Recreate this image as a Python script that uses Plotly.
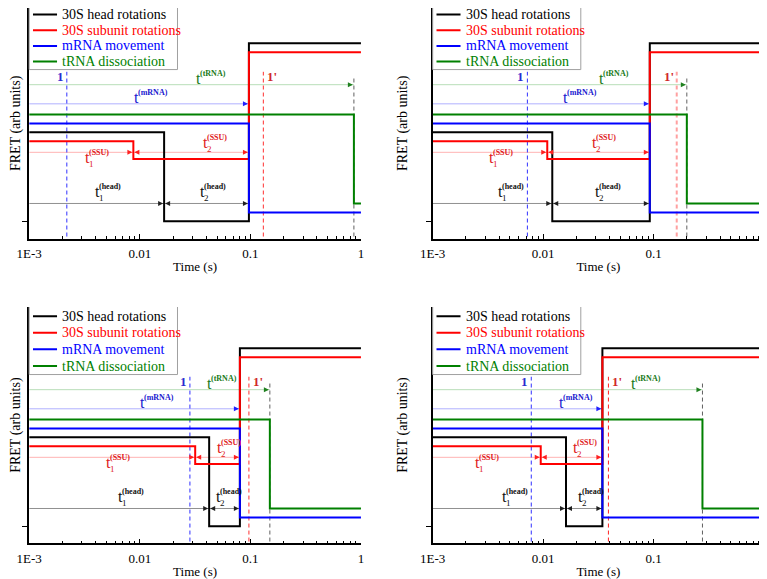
import numpy as np
import plotly.graph_objects as go

# step times (s) for the four panels (top-left, top-right, bottom-left, bottom-right)
t_ssu = [0.00875, 0.0109, 0.0317, 0.00951]     # 30S subunit first step
t_head = [0.0166, 0.0121, 0.0424, 0.0161]      # 30S head first step
t_main = [0.097, 0.0924, 0.0804, 0.0344]       # head/subunit up, mRNA down
t_trna = [0.863, 0.200, 0.150, 0.277]          # tRNA dissociation
t_mark1 = [0.00219, 0.0072, 0.0284, 0.00781]   # dashed line "1"
t_mark1p = [0.131, 0.162, 0.097, 0.039]        # dashed line "1'"

# FRET levels (arb units)
head_levels = [10, 0, 20]
ssu_levels = [9, 7, 19]
mrna_levels = [11, 1]
trna_levels = [12, 2]

# heights of the dwell-time arrows
arrow_trna = 15.35
arrow_mrna = 13.2
arrow_ssu = 7.75
arrow_head = 2.0

series_names = ['30S head rotations', '30S subunit rotations', 'mRNA movement', 'tRNA dissociation']
series_colors = ['#000000', '#ff0000', '#0000ff', '#008000']

# where the t labels start (left edge of the "t"), per panel, in seconds
label_x = {
    'trna': [0.0311, 0.031, 0.0389, 0.060],
    'mrna': [0.00845, 0.0144, 0.00957, 0.0133],
    'ssu1': [0.00308, 0.00308, 0.00477, 0.00232],
    'ssu2': [0.0356, 0.0264, 0.0479, 0.0178],
    'head1': [0.00375, 0.00377, 0.0061, 0.00404],
    'head2': [0.0334, 0.0285, 0.0472, 0.020],
}
mark1p_side = ['left', 'right', 'left', 'left']
mark1p_color = ['#ff3030', '#ffa0a0', '#ff3030', '#ff2020']
mark1p_width = [1, 2, 1, 1]

SERIF = 'Liberation Serif'
# the page adds an 8px body margin, so domains are set 8px up/left of the target
x_dom = [[0.0276, 0.4602], [0.5537, 0.9857], [0.0276, 0.4602], [0.5537, 0.9857]]
y_dom = [[0.6016, 1.0], [0.6016, 1.0], [0.0755, 0.4836], [0.0755, 0.4836]]
y_rng = [[-1.955, 23.97], [-1.955, 23.97], [-1.91, 24.64], [-1.91, 24.64]]
# legend rows (top panels are clipped at the page top, so squeeze them a bit)
legend_rows = [[23.25, 21.47, 19.7, 17.95]] * 2 + [[23.6, 21.75, 19.9, 18.0]] * 2

fig = go.Figure()


def refs(i):
    s = '' if i == 0 else str(i + 1)
    return 'x' + s, 'y' + s


def t_label(i, x, y, dy, sup, sub, color):
    xr, yr = refs(i)
    base = dict(xref=xr, yref=yr, x=np.log10(x), y=y, xanchor='left', yanchor='bottom',
                showarrow=False)
    fig.add_annotation(**base, text='t', font=dict(family=SERIF, size=16, color=color),
                       yshift=dy - 4)
    fig.add_annotation(**base, text='<b>(%s)</b>' % sup,
                       font=dict(family=SERIF, size=8, color=color), xshift=4, yshift=dy + 5)
    if sub:
        fig.add_annotation(**base, text=sub, font=dict(family=SERIF, size=9, color=color),
                           xshift=4, yshift=dy - 7)


def head(i, x, y, color, left=False):
    xr, yr = refs(i)
    fig.add_annotation(xref=xr, yref=yr, x=np.log10(x), y=y, ax=5 if left else -5, ay=0,
                       text='', showarrow=True, arrowhead=2, arrowsize=1, arrowwidth=1,
                       arrowcolor=color, standoff=1)


minor_vals = [k * 10.0 ** e for e in (-3, -2, -1) for k in range(2, 10)]

for i in range(4):
    xr, yr = refs(i)
    xa = dict(xaxis=xr, yaxis=yr, mode='lines', showlegend=False, hoverinfo='skip')
    x0 = 1e-3

    # light dwell-time arrows (drawn underneath)
    fig.add_trace(go.Scatter(x=[x0, t_trna[i]], y=[arrow_trna] * 2,
                             line=dict(color='#b8deb8', width=1), **xa))
    fig.add_trace(go.Scatter(x=[x0, t_main[i]], y=[arrow_mrna] * 2,
                             line=dict(color='#b0b0ff', width=1), **xa))
    fig.add_trace(go.Scatter(x=[x0, t_main[i]], y=[arrow_ssu] * 2,
                             line=dict(color='#ffb4b4', width=1), **xa))
    fig.add_trace(go.Scatter(x=[x0, t_main[i]], y=[arrow_head] * 2,
                             line=dict(color='#909090', width=1), **xa))

    # dashed markers
    fig.add_trace(go.Scatter(x=[t_mark1[i]] * 2, y=[-2.5, 16.8],
                             line=dict(color='#3030ff', width=1, dash='4px,3px'), **xa))
    fig.add_trace(go.Scatter(x=[t_mark1p[i]] * 2, y=[-2.5, 16.8],
                             line=dict(color=mark1p_color[i], width=mark1p_width[i],
                                       dash='4px,3px'), **xa))
    fig.add_trace(go.Scatter(x=[t_trna[i]] * 2, y=[-2.5, 16.25],
                             line=dict(color='#606060', width=1, dash='4px,3px'), **xa))

    # step traces
    fig.add_trace(go.Scatter(x=[x0, t_head[i], t_main[i], 1], y=head_levels + [head_levels[-1]],
                             line=dict(color=series_colors[0], width=2, shape='hv'), **xa))
    fig.add_trace(go.Scatter(x=[x0, t_ssu[i], t_main[i], 1], y=ssu_levels + [ssu_levels[-1]],
                             line=dict(color=series_colors[1], width=2, shape='hv'), **xa))
    fig.add_trace(go.Scatter(x=[x0, t_main[i], 1], y=mrna_levels + [mrna_levels[-1]],
                             line=dict(color=series_colors[2], width=2, shape='hv'), **xa))
    fig.add_trace(go.Scatter(x=[x0, t_trna[i], 1], y=trna_levels + [trna_levels[-1]],
                             line=dict(color=series_colors[3], width=2, shape='hv'), **xa))

    # arrowheads
    head(i, t_trna[i], arrow_trna, '#208020')
    head(i, t_main[i], arrow_mrna, '#2020ff')
    head(i, t_ssu[i], arrow_ssu, '#ff2020')
    head(i, t_ssu[i], arrow_ssu, '#ff2020', left=True)
    head(i, t_main[i], arrow_ssu, '#ff2020')
    head(i, t_head[i], arrow_head, '#202020')
    head(i, t_head[i], arrow_head, '#202020', left=True)
    head(i, t_main[i], arrow_head, '#202020')

    # labels
    t_label(i, label_x['trna'][i], arrow_trna, 0, 'tRNA', None, '#1a7a1a')
    t_label(i, label_x['mrna'][i], arrow_mrna, 0, 'mRNA', None, '#2020d0')
    t_label(i, label_x['ssu2'][i], arrow_ssu, 3, 'SSU', '2', '#e02020')
    t_label(i, label_x['ssu1'][i], arrow_ssu, -12, 'SSU', '1', '#e02020')
    t_label(i, label_x['head1'][i], arrow_head, 5, 'head', '1', '#111111')
    t_label(i, label_x['head2'][i], arrow_head, 5, 'head', '2', '#111111')

    fig.add_annotation(xref=xr, yref=yr, x=np.log10(t_mark1[i]), y=16.3, text='<b>1</b>',
                       showarrow=False, xanchor='right', xshift=-1,
                       font=dict(family=SERIF, size=13, color='#2a2ad0'))
    side = mark1p_side[i]
    fig.add_annotation(xref=xr, yref=yr, x=np.log10(t_mark1p[i]), y=16.3, text="<b>1'</b>",
                       showarrow=False, xanchor=side, xshift=2 if side == 'left' else -1,
                       font=dict(family=SERIF, size=13, color='#d02828'))

    # legend box
    dom = xr + ' domain'
    fig.add_shape(type='rect', xref=dom, yref=yr, x0=0, x1=0.447, y0=17.05, y1=24.9,
                  line=dict(color='#a0a0a0', width=1), fillcolor='white', layer='above')
    for k, (name, col) in enumerate(zip(series_names, series_colors)):
        ly = legend_rows[i][k]
        fig.add_shape(type='line', xref=dom, yref=yr, x0=0.0115, x1=0.084, y0=ly, y1=ly,
                      line=dict(color=col, width=2), layer='above')
        fig.add_annotation(xref=dom, yref=yr, x=0.093, y=ly, text=name, showarrow=False,
                           xanchor='left', font=dict(family=SERIF, size=14, color=col))

    n = '' if i == 0 else str(i + 1)
    fig.update_layout(**{
        'xaxis' + n: dict(domain=x_dom[i], anchor=yr, type='log', range=[-3, 0],
                          automargin=False,
                          showline=True, linecolor='black', linewidth=1.5, mirror=False,
                          showgrid=False, zeroline=False, ticks='inside', ticklen=5,
                          tickcolor='black', tickwidth=1,
                          tickvals=[0.001, 0.01, 0.1, 1], ticktext=['1E-3', '0.01', '0.1', '1'],
                          tickfont=dict(family=SERIF, size=13, color='black'),
                          ticklabelstandoff=2, ticklabeloverflow='allow',
                          minor=dict(ticks='inside', ticklen=3, tickcolor='black',
                                     tickvals=minor_vals),
                          title=dict(text='Time (s)', standoff=2,
                                     font=dict(family=SERIF, size=13, color='black'))),
        'yaxis' + n: dict(domain=y_dom[i], anchor=xr, range=y_rng[i],
                          automargin=False,
                          showline=True, linecolor='black', linewidth=1.5,
                          showgrid=False, zeroline=False, ticks='outside', ticklen=5,
                          tickcolor='black', tickvals=[0], showticklabels=False,
                          title=dict(text='FRET (arb units)', standoff=15,
                                     font=dict(family=SERIF, size=14, color='black'))),
    })

fig.update_layout(width=767, height=579, margin=dict(l=0, r=0, t=0, b=0),
                  paper_bgcolor='white', plot_bgcolor='white', showlegend=False)

fig.write_html("out.html")
